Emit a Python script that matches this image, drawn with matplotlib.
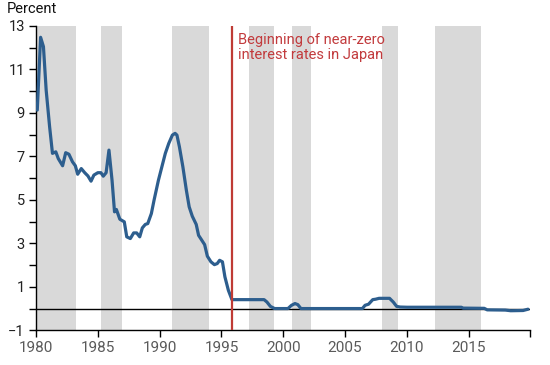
import matplotlib
matplotlib.use("Agg")
import matplotlib.pyplot as plt

plt.rcParams['font.family'] = ['Roboto', 'DejaVu Sans']

# --- data ---
years = [1980.1, 1980.37, 1980.6, 1980.82, 1981.1, 1981.33, 1981.6, 1981.8, 1982.15, 1982.4,
         1982.66, 1982.95, 1983.18, 1983.37, 1983.66, 1983.94, 1984.2, 1984.45, 1984.68, 1985.0,
         1985.25, 1985.44, 1985.67, 1985.9, 1986.15, 1986.35, 1986.5, 1986.78, 1987.14, 1987.34,
         1987.63, 1987.9, 1988.14, 1988.39, 1988.6, 1988.84, 1989.04, 1989.33, 1989.55, 1989.9,
         1990.18, 1990.46, 1990.74, 1991.03, 1991.25, 1991.4, 1991.6, 1991.88, 1992.16, 1992.39,
         1992.64, 1992.96, 1993.15, 1993.38, 1993.64, 1993.86, 1994.15, 1994.43, 1994.66, 1994.85,
         1995.08, 1995.28, 1995.56, 1995.85, 1998.45, 1998.68, 1998.96, 1999.3, 2000.38, 2000.67,
         2000.95, 2001.18, 2001.43, 2006.4, 2006.62, 2006.9, 2007.24, 2007.47, 2007.75, 2008.6,
         2008.9, 2009.17, 2009.45, 2010.02, 2014.4, 2014.56, 2016.26, 2016.5, 2017.96, 2018.4,
         2019.4, 2019.8]
rates = [9.13, 12.48, 12.05, 10.05, 8.36, 7.14, 7.21, 6.9, 6.57, 7.17,
         7.1, 6.75, 6.57, 6.18, 6.44, 6.25, 6.1, 5.86, 6.14, 6.25,
         6.25, 6.09, 6.25, 7.29, 5.9, 4.45, 4.56, 4.11, 3.99, 3.3,
         3.22, 3.48, 3.48, 3.3, 3.71, 3.87, 3.91, 4.37, 4.99, 5.9,
         6.52, 7.14, 7.6, 7.98, 8.06, 7.98, 7.44, 6.52, 5.45, 4.68,
         4.25, 3.87, 3.37, 3.17, 2.94, 2.41, 2.15, 2.02, 2.07, 2.22,
         2.15, 1.46, 0.84, 0.41, 0.41, 0.3, 0.1, 0.0, 0.0, 0.15,
         0.23, 0.18, 0.0, 0.0, 0.15, 0.2, 0.41, 0.43, 0.47, 0.47,
         0.3, 0.1, 0.07, 0.06, 0.06, 0.02, 0.01, -0.06, -0.07, -0.1,
         -0.09, -0.03]
recession_starts = [1980.0, 1985.26, 1990.98, 1997.23, 2000.71, 2007.99, 2012.28]
recession_ends = [1983.2, 1986.93, 1993.97, 1999.26, 2002.25, 2009.29, 2015.97]
zero_rate_start = 1995.83
x_ticks = [1980, 1985, 1990, 1995, 2000, 2005, 2010, 2015, 2020]
x_tick_labels = ['1980', '1985', '1990', '1995', '2000', '2005', '2010', '2015', '']
y_ticks = [-1, 1, 3, 5, 7, 9, 11, 13]
y_minor_ticks = [0, 2, 4, 6, 8, 10, 12]
annotation = "Beginning of near-zero\ninterest rates in Japan"

fig = plt.figure(figsize=(5.5, 3.65), dpi=100)
ax = fig.add_axes([0.0655, 0.0951, 0.899, 0.8337])

for s, e in zip(recession_starts, recession_ends):
    ax.axvspan(s, e, color='#d9d9d9', lw=0, zorder=0)

ax.axhline(0, color='black', lw=1.0, zorder=2)
ax.plot(years, rates, color='#2d5e8e', lw=2.3, solid_joinstyle='round',
        solid_capstyle='round', zorder=3)
ax.axvline(zero_rate_start, color='#bf3b35', lw=1.6, zorder=4)
ax.text(zero_rate_start + 0.5, 12.7, annotation, color='#c23b3d', fontsize=10.5,
        va='top', ha='left', linespacing=1.15, zorder=5)

ax.set_xlim(1980, 2020)
ax.set_ylim(-1, 13)
ax.set_xticks(x_ticks)
ax.set_xticklabels(x_tick_labels)
ax.set_yticks(y_ticks)
ax.set_yticks(y_minor_ticks, minor=True)

for sp in ['top', 'right']:
    ax.spines[sp].set_visible(False)
for sp in ['left', 'bottom']:
    ax.spines[sp].set_color('black')
    ax.spines[sp].set_linewidth(1.0)

ax.tick_params(axis='y', which='both', direction='out', length=5, width=1,
               colors='black', labelsize=10.5, labelcolor='#222222', pad=3)
ax.tick_params(axis='x', which='both', direction='out', length=5, width=1,
               colors='black', labelsize=11, labelcolor='#5a5a5a', pad=3)

fig.text(0.013, 0.995, "Percent", fontsize=10.5, color='#111111', va='top', ha='left')

fig.savefig('out.png', dpi=100)
